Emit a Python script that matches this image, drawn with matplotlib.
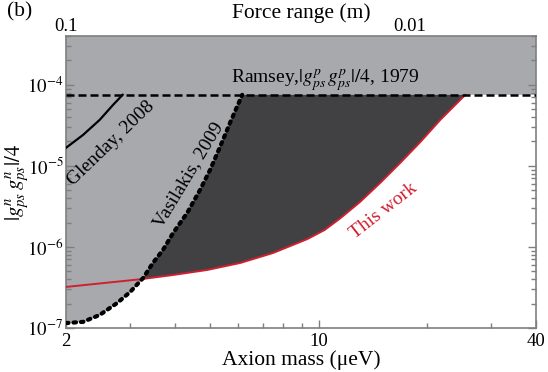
import numpy as np
import matplotlib
matplotlib.use("Agg")
import matplotlib.pyplot as plt

plt.rcParams['font.family'] = ['Liberation Serif', 'DejaVu Serif']
plt.rcParams['mathtext.fontset'] = 'stix'
FS_TICK = 13.5
FS_LAB = 15.5
FS_TXT = 14

# ---- data ----
ramsey_g = 7.53e-5

vas_m = [2.0, 2.23, 2.48, 2.77, 3.01, 3.27, 3.48, 3.71, 3.96, 4.33, 4.70, 5.01, 5.34, 5.69, 6.15]
vas_g = [1.15e-7, 1.19e-7, 1.45e-7, 2.03e-7, 2.78e-7, 4.14e-7, 6.34e-7, 9.18e-7,
         1.49e-6, 2.63e-6, 5.06e-6, 8.93e-6, 1.72e-5, 3.40e-5, 7.53e-5]

work_m = [2.0, 3.21, 3.96, 4.92, 6.07, 7.49, 9.31, 10.4, 11.48, 13.03, 14.82, 16.84,
          19.14, 21.74, 23.61, 25.5]
work_g = [3.21e-7, 3.99e-7, 4.51e-7, 5.20e-7, 6.34e-7, 8.43e-7, 1.25e-6, 1.62e-6, 2.25e-6,
          3.59e-6, 6.17e-6, 1.09e-5, 1.97e-5, 3.70e-5, 5.35e-5, 7.53e-5]

glen_m = [2.0, 2.23, 2.48, 2.70, 2.87]
glen_g = [1.67e-5, 2.41e-5, 3.70e-5, 5.66e-5, 7.53e-5]

xlim = (2, 40)
ylim = (1e-7, 4e-4)
cross_m, cross_g = 3.20, 3.98e-7  # crossing of Vasilakis and this work

light = '#a8a9ad'
dark = '#414143'
red = '#d01f2f'
frame = '#7f7f7f'

fig = plt.figure(figsize=(5.48, 3.72), dpi=100)
ax = fig.add_axes([66/548, 1-328/372, (536-66)/548, (328-36)/372])
ax.set_xscale('log')
ax.set_yscale('log')
ax.set_xlim(*xlim)
ax.set_ylim(*ylim)

# light gray excluded region (above Vasilakis / Ramsey)
lx = [xlim[0]] + vas_m + [xlim[1], xlim[1]]
ly = [ylim[1]] + vas_g + [ramsey_g, ylim[1]]
ax.fill(lx, ly, color=light, lw=0, zorder=1)

# dark region (this work only)
vm = [cross_m] + [m for m in vas_m if m > cross_m]
vg = [cross_g] + [g for m, g in zip(vas_m, vas_g) if m > cross_m]
wm = [m for m in work_m if m > cross_m][::-1]
wg = [g for m, g in zip(work_m, work_g) if m > cross_m][::-1]
ax.fill(vm + wm + [cross_m], vg + wg + [cross_g], color=dark, lw=0, zorder=2)

ax.plot(work_m, work_g, color=red, lw=1.4, zorder=3)
ax.plot(vas_m, vas_g, color='black', lw=3.0, linestyle=(0, (0.6, 1.2)),
        dash_capstyle='round', zorder=4)
ax.plot(glen_m, glen_g, color='black', lw=1.6, zorder=4)
ax.axhline(ramsey_g, color='black', lw=1.8, linestyle=(0, (3.2, 1.6)), zorder=5)

# labels on the plot
def dtext(px, py, s, rot, color='black'):
    fig.text(px/548, 1-py/372, s, rotation=rot, ha='center', va='center',
             rotation_mode='anchor', fontsize=FS_TXT, color=color, zorder=6)

dtext(325, 81, r"Ramsey,$|g^{p}_{ps}\,g^{p}_{ps}|/4$, 1979", 0)
dtext(111, 143, "Glenday, 2008", 44)
dtext(188, 175, "Vasilakis, 2009", 59)
dtext(384, 211, "This work", 38, color=red)
fig.text(7/548, 1-12/372, "(b)", ha='left', va='center', fontsize=FS_LAB)

# axes styling
for s in ax.spines.values():
    s.set_color(frame)
    s.set_linewidth(1.2)
ax.tick_params(which='both', direction='in', color=frame, labelsize=FS_TICK, top=False, right=True)
ax.tick_params(which='major', length=6, width=1)
ax.tick_params(which='minor', length=3.5, width=1)
ax.tick_params(axis='y', which='both', pad=2)
ax.set_xticks([2, 10, 40])
ax.set_xticklabels(['2', '10', '40'])
ax.xaxis.set_minor_locator(matplotlib.ticker.FixedLocator([3, 4, 5, 6, 7, 8, 9, 20, 30]))
ax.xaxis.set_minor_formatter(matplotlib.ticker.NullFormatter())
ax.set_yticks([1e-7, 1e-6, 1e-5, 1e-4])
ax.set_yticklabels([r'$10^{-7}$', r'$10^{-6}$', r'$10^{-5}$', r'$10^{-4}$'])
ax.yaxis.set_minor_locator(matplotlib.ticker.LogLocator(base=10, subs=np.arange(2, 10)))
ax.yaxis.set_minor_formatter(matplotlib.ticker.NullFormatter())
ax.set_xlabel(u"Axion mass (\u03bceV)", fontsize=FS_LAB, labelpad=0)
ax.set_ylabel(r"$|g^{n}_{ps}\,g^{n}_{ps}|/4$", fontsize=15)
ax.yaxis.set_label_coords((31-66)/470, 0.5)

# top axis: force range
p = 361.0/343.0
def fwd(m):
    m = np.maximum(np.asarray(m, dtype=float), 1e-6)
    return 0.1*(m/2.0)**(-p)
def inv(l):
    l = np.maximum(np.asarray(l, dtype=float), 1e-9)
    return 2.0*(l/0.1)**(-1.0/p)
sec = ax.secondary_xaxis('top', functions=(fwd, inv))
sec.set_xticks([0.1, 0.01])
sec.set_xticklabels(['0.1', '0.01'])
sec.xaxis.set_minor_locator(matplotlib.ticker.FixedLocator(
    [0.09, 0.08, 0.07, 0.06, 0.05, 0.04, 0.03, 0.02, 0.009, 0.008, 0.007, 0.006, 0.005]))
sec.xaxis.set_minor_formatter(matplotlib.ticker.NullFormatter())
sec.tick_params(which='both', direction='in', color=frame, labelsize=FS_TICK, pad=1)
sec.tick_params(which='major', length=6, width=1)
sec.tick_params(which='minor', length=3.5, width=1)
sec.spines['top'].set_color(frame)
sec.set_xlabel("Force range (m)", fontsize=FS_LAB, labelpad=0)

fig.savefig('out.png', dpi=100)
